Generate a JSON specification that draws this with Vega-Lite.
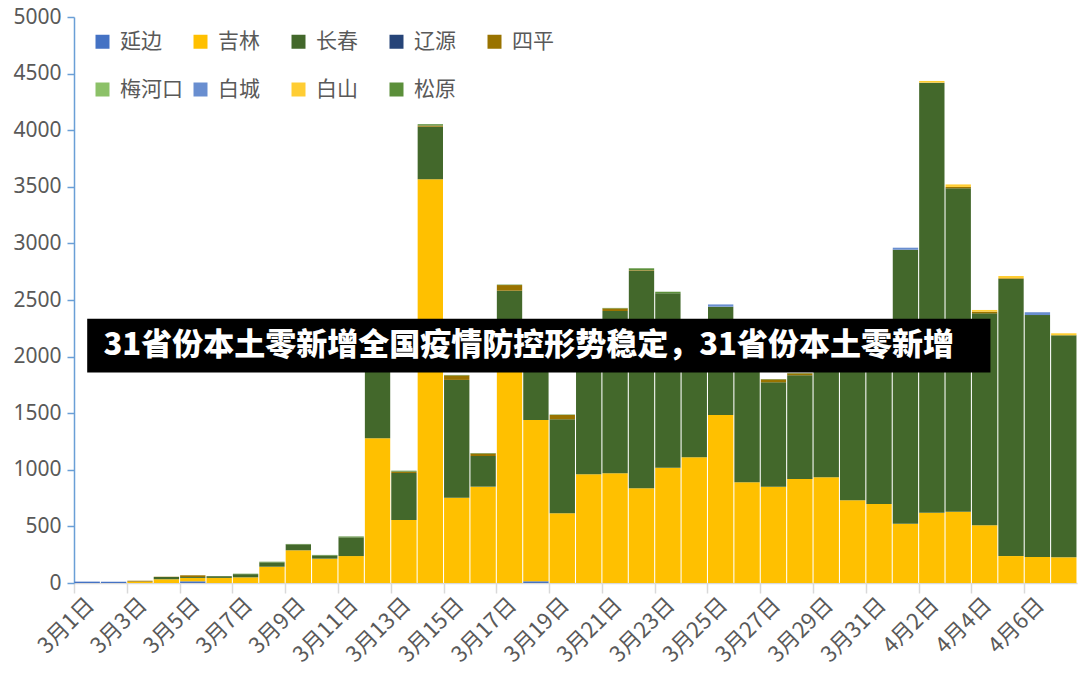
{
  "$schema": "https://vega.github.io/schema/vega-lite/v6.json",
  "width": 1003,
  "height": 566,
  "autosize": {"type": "none"},
  "padding": {"left": 74, "top": 17, "right": 3, "bottom": 110},
  "background": "white",
  "config": {"view": {"stroke": null}},
  "datasets": {
    "cityOrder": [
      {"city": "延边", "k": 1},
      {"city": "吉林", "k": 2},
      {"city": "长春", "k": 3},
      {"city": "辽源", "k": 4},
      {"city": "四平", "k": 5},
      {"city": "梅河口", "k": 6},
      {"city": "白城", "k": 7},
      {"city": "白山", "k": 8},
      {"city": "松原", "k": 9}
    ],
    "cases": [
      {"date": "3月1日", "city": "延边", "n": 12},
      {"date": "3月2日", "city": "延边", "n": 10},
      {"date": "3月3日", "city": "吉林", "n": 12},
      {"date": "3月3日", "city": "四平", "n": 8},
      {"date": "3月4日", "city": "吉林", "n": 33},
      {"date": "3月4日", "city": "长春", "n": 20},
      {"date": "3月4日", "city": "四平", "n": 3},
      {"date": "3月5日", "city": "延边", "n": 15},
      {"date": "3月5日", "city": "吉林", "n": 30},
      {"date": "3月5日", "city": "长春", "n": 8},
      {"date": "3月5日", "city": "四平", "n": 15},
      {"date": "3月6日", "city": "吉林", "n": 45},
      {"date": "3月6日", "city": "长春", "n": 15},
      {"date": "3月7日", "city": "吉林", "n": 50},
      {"date": "3月7日", "city": "长春", "n": 28},
      {"date": "3月7日", "city": "松原", "n": 4},
      {"date": "3月8日", "city": "吉林", "n": 144},
      {"date": "3月8日", "city": "长春", "n": 38},
      {"date": "3月8日", "city": "松原", "n": 6},
      {"date": "3月9日", "city": "吉林", "n": 289},
      {"date": "3月9日", "city": "长春", "n": 52},
      {"date": "3月9日", "city": "松原", "n": 4},
      {"date": "3月10日", "city": "吉林", "n": 215},
      {"date": "3月10日", "city": "长春", "n": 28},
      {"date": "3月10日", "city": "松原", "n": 5},
      {"date": "3月11日", "city": "吉林", "n": 238},
      {"date": "3月11日", "city": "长春", "n": 165},
      {"date": "3月11日", "city": "松原", "n": 8},
      {"date": "3月12日", "city": "吉林", "n": 1278},
      {"date": "3月12日", "city": "长春", "n": 720},
      {"date": "3月13日", "city": "吉林", "n": 556},
      {"date": "3月13日", "city": "长春", "n": 416},
      {"date": "3月13日", "city": "四平", "n": 12},
      {"date": "3月13日", "city": "松原", "n": 8},
      {"date": "3月14日", "city": "吉林", "n": 3566},
      {"date": "3月14日", "city": "长春", "n": 465},
      {"date": "3月14日", "city": "四平", "n": 10},
      {"date": "3月14日", "city": "松原", "n": 12},
      {"date": "3月15日", "city": "吉林", "n": 754},
      {"date": "3月15日", "city": "长春", "n": 1040},
      {"date": "3月15日", "city": "四平", "n": 40},
      {"date": "3月15日", "city": "松原", "n": 4},
      {"date": "3月16日", "city": "吉林", "n": 851},
      {"date": "3月16日", "city": "长春", "n": 271},
      {"date": "3月16日", "city": "四平", "n": 22},
      {"date": "3月16日", "city": "松原", "n": 4},
      {"date": "3月17日", "city": "吉林", "n": 2050},
      {"date": "3月17日", "city": "长春", "n": 532},
      {"date": "3月17日", "city": "四平", "n": 50},
      {"date": "3月17日", "city": "松原", "n": 4},
      {"date": "3月18日", "city": "延边", "n": 15},
      {"date": "3月18日", "city": "吉林", "n": 1425},
      {"date": "3月18日", "city": "长春", "n": 700},
      {"date": "3月19日", "city": "吉林", "n": 616},
      {"date": "3月19日", "city": "长春", "n": 830},
      {"date": "3月19日", "city": "四平", "n": 38},
      {"date": "3月19日", "city": "松原", "n": 4},
      {"date": "3月20日", "city": "吉林", "n": 960},
      {"date": "3月20日", "city": "长春", "n": 1240},
      {"date": "3月21日", "city": "吉林", "n": 969},
      {"date": "3月21日", "city": "长春", "n": 1434},
      {"date": "3月21日", "city": "四平", "n": 23},
      {"date": "3月21日", "city": "松原", "n": 4},
      {"date": "3月22日", "city": "吉林", "n": 836},
      {"date": "3月22日", "city": "长春", "n": 1923},
      {"date": "3月22日", "city": "四平", "n": 5},
      {"date": "3月22日", "city": "松原", "n": 16},
      {"date": "3月23日", "city": "吉林", "n": 1019},
      {"date": "3月23日", "city": "长春", "n": 1540},
      {"date": "3月23日", "city": "松原", "n": 14},
      {"date": "3月24日", "city": "吉林", "n": 1110},
      {"date": "3月24日", "city": "长春", "n": 1190},
      {"date": "3月25日", "city": "吉林", "n": 1484},
      {"date": "3月25日", "city": "长春", "n": 957},
      {"date": "3月25日", "city": "白城", "n": 20},
      {"date": "3月26日", "city": "吉林", "n": 889},
      {"date": "3月26日", "city": "长春", "n": 1361},
      {"date": "3月27日", "city": "吉林", "n": 851},
      {"date": "3月27日", "city": "长春", "n": 922},
      {"date": "3月27日", "city": "四平", "n": 26},
      {"date": "3月27日", "city": "松原", "n": 3},
      {"date": "3月28日", "city": "吉林", "n": 919},
      {"date": "3月28日", "city": "长春", "n": 916},
      {"date": "3月28日", "city": "四平", "n": 17},
      {"date": "3月28日", "city": "松原", "n": 3},
      {"date": "3月29日", "city": "吉林", "n": 934},
      {"date": "3月29日", "city": "长春", "n": 1316},
      {"date": "3月30日", "city": "吉林", "n": 731},
      {"date": "3月30日", "city": "长春", "n": 1450},
      {"date": "3月31日", "city": "吉林", "n": 698},
      {"date": "3月31日", "city": "长春", "n": 1500},
      {"date": "4月1日", "city": "吉林", "n": 524},
      {"date": "4月1日", "city": "长春", "n": 2420},
      {"date": "4月1日", "city": "白城", "n": 18},
      {"date": "4月2日", "city": "吉林", "n": 621},
      {"date": "4月2日", "city": "长春", "n": 3799},
      {"date": "4月2日", "city": "白山", "n": 15},
      {"date": "4月3日", "city": "吉林", "n": 630},
      {"date": "4月3日", "city": "长春", "n": 2857},
      {"date": "4月3日", "city": "四平", "n": 12},
      {"date": "4月3日", "city": "白山", "n": 22},
      {"date": "4月4日", "city": "吉林", "n": 510},
      {"date": "4月4日", "city": "长春", "n": 1872},
      {"date": "4月4日", "city": "四平", "n": 15},
      {"date": "4月4日", "city": "白山", "n": 15},
      {"date": "4月5日", "city": "吉林", "n": 238},
      {"date": "4月5日", "city": "长春", "n": 2447},
      {"date": "4月5日", "city": "四平", "n": 7},
      {"date": "4月5日", "city": "白山", "n": 20},
      {"date": "4月6日", "city": "吉林", "n": 230},
      {"date": "4月6日", "city": "长春", "n": 2137},
      {"date": "4月6日", "city": "白城", "n": 25},
      {"date": "4月7日", "city": "吉林", "n": 227},
      {"date": "4月7日", "city": "长春", "n": 1961},
      {"date": "4月7日", "city": "白山", "n": 18}
    ],
    "banner": [
      {"start": "3月1日", "end": "4月4日", "textAt": "3月2日", "lo": 1860, "hi": 2335, "mid": 2094, "text": "31省份本土零新增全国疫情防控形势稳定，31省份本土零新增"}
    ]
  },
  "encoding": {
    "x": {
      "field": "date",
      "type": "ordinal",
      "title": null,
      "scale": {
        "domain": ["3月1日","3月2日","3月3日","3月4日","3月5日","3月6日","3月7日","3月8日","3月9日","3月10日","3月11日","3月12日","3月13日","3月14日","3月15日","3月16日","3月17日","3月18日","3月19日","3月20日","3月21日","3月22日","3月23日","3月24日","3月25日","3月26日","3月27日","3月28日","3月29日","3月30日","3月31日","4月1日","4月2日","4月3日","4月4日","4月5日","4月6日","4月7日"],
        "paddingInner": 0.04,
        "paddingOuter": 0.02
      },
      "axis": {
        "values": ["3月1日","3月3日","3月5日","3月7日","3月9日","3月11日","3月13日","3月15日","3月17日","3月19日","3月21日","3月23日","3月25日","3月27日","3月29日","3月31日","4月2日","4月4日","4月6日"],
        "labelAngle": -45,
        "labelAlign": "right",
        "labelBaseline": "middle",
        "labelFont": "Noto Sans CJK SC",
        "labelFontSize": 22,
        "labelColor": "#595959",
        "labelPadding": 8,
        "labelOffset": 16,
        "tickOffset": -13.2,
        "tickSize": 10,
        "tickColor": "#D9D9D9",
        "tickWidth": 1.5,
        "domainColor": "#D9D9D9",
        "domainWidth": 1.5
      }
    }
  },
  "layer": [
    {
      "data": {"name": "cases"},
      "transform": [
        {"lookup": "city", "from": {"data": {"name": "cityOrder"}, "key": "city", "fields": ["k"]}}
      ],
      "mark": {"type": "bar"},
      "encoding": {
        "y": {
          "field": "n",
          "type": "quantitative",
          "stack": "zero",
          "title": null,
          "scale": {"domain": [0, 5000], "nice": false},
          "axis": {
            "values": [0,500,1000,1500,2000,2500,3000,3500,4000,4500,5000],
            "format": "d",
            "grid": false,
            "labelFont": "Noto Sans",
            "labelFontSize": 21,
            "labelColor": "#595959",
            "labelPadding": 6,
            "tickSize": 7,
            "tickColor": "#6A9FD6",
            "tickWidth": 1.5,
            "domainColor": "#6A9FD6",
            "domainWidth": 1.5
          }
        },
        "order": {"field": "k", "type": "quantitative", "sort": "ascending"},
        "color": {
          "field": "city",
          "type": "nominal",
          "sort": ["延边","吉林","长春","辽源","四平","梅河口","白城","白山","松原"],
          "scale": {
            "domain": ["延边","吉林","长春","辽源","四平","梅河口","白城","白山","松原"],
            "range": ["#4472C4","#FFC000","#43682B","#264478","#997300","#8CC168","#698ED0","#FFCD33","#5B8F3A"]
          },
          "legend": {
            "title": null,
            "orient": "none",
            "legendX": 18,
            "legendY": 14,
            "direction": "horizontal",
            "columns": 5,
            "gridAlign": "all",
            "symbolType": "square",
            "symbolSize": 196,
            "symbolStrokeWidth": 0,
            "labelFont": "Noto Sans CJK SC",
            "labelFontSize": 21,
            "labelColor": "#595959",
            "labelOffset": 7,
            "columnPadding": 7,
            "rowPadding": 26,
            "padding": 0
          }
        }
      }
    },
    {
      "data": {"name": "banner"},
      "mark": {"type": "rect", "color": "black"},
      "encoding": {
        "x": {"field": "start", "type": "ordinal", "bandPosition": 0.5},
        "x2": {"field": "end", "bandPosition": 0.73},
        "y": {"field": "lo", "type": "quantitative"},
        "y2": {"field": "hi"}
      }
    },
    {
      "data": {"name": "banner"},
      "mark": {"type": "text", "color": "white", "align": "left", "baseline": "middle", "font": "Noto Sans CJK SC", "fontWeight": 900, "fontSize": 31},
      "encoding": {
        "x": {"field": "textAt", "type": "ordinal", "bandPosition": 0.1},
        "y": {"field": "mid", "type": "quantitative"},
        "text": {"field": "text"}
      }
    }
  ]
}
